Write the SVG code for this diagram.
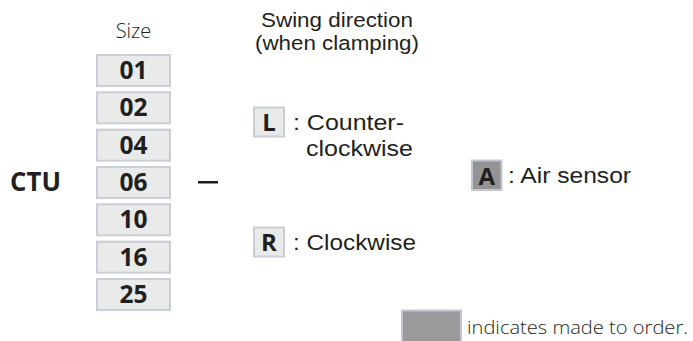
<svg xmlns="http://www.w3.org/2000/svg" width="693" height="341" viewBox="0 0 693 341">
<style>
.bx{fill:#e9ebea;stroke:#c9cdd8;stroke-width:2}
.dk{fill:#949495;stroke:#c2c6d0;stroke-width:2}
.b{font-family:"Open Sans","Liberation Sans",sans-serif;font-weight:bold;fill:#231f20}
.r{font-family:"Liberation Sans","Open Sans",sans-serif;fill:#231f20}
.l{font-family:"Open Sans","Liberation Sans",sans-serif;font-weight:300;fill:#231f20}
.ls{font-family:"Liberation Sans","Open Sans",sans-serif;fill:#231f20}
</style>
<rect width="693" height="341" fill="#ffffff"/>
<g id="prefix"><text class="b" x="10" y="191" font-size="26" textLength="51" lengthAdjust="spacingAndGlyphs">CTU</text></g>
<g id="size-header"><text class="l" x="133.5" y="38" font-size="20" text-anchor="middle">Size</text></g>
<g id="size-01"><rect class="bx" x="97" y="55" width="73" height="31"/><text class="b" x="133.5" y="79" font-size="24.5" text-anchor="middle">01</text></g>
<g id="size-02"><rect class="bx" x="97" y="92.3" width="73" height="31"/><text class="b" x="133.5" y="116.3" font-size="24.5" text-anchor="middle">02</text></g>
<g id="size-04"><rect class="bx" x="97" y="129.7" width="73" height="31"/><text class="b" x="133.5" y="153.7" font-size="24.5" text-anchor="middle">04</text></g>
<g id="size-06"><rect class="bx" x="97" y="167" width="73" height="31"/><text class="b" x="133.5" y="191" font-size="24.5" text-anchor="middle">06</text></g>
<g id="size-10"><rect class="bx" x="97" y="204.3" width="73" height="31"/><text class="b" x="133.5" y="228.3" font-size="24.5" text-anchor="middle">10</text></g>
<g id="size-16"><rect class="bx" x="97" y="241.7" width="73" height="31"/><text class="b" x="133.5" y="265.7" font-size="24.5" text-anchor="middle">16</text></g>
<g id="size-25"><rect class="bx" x="97" y="279" width="73" height="31"/><text class="b" x="133.5" y="303" font-size="24.5" text-anchor="middle">25</text></g>
<g id="dash"><rect x="198" y="181" width="20" height="2.5" fill="#231f20"/></g>
<g id="swing-header">
<text class="ls" x="337" y="27" font-size="19.5" text-anchor="middle" textLength="152" lengthAdjust="spacingAndGlyphs">Swing direction</text>
<text class="ls" x="337" y="50" font-size="19.5" text-anchor="middle" textLength="164" lengthAdjust="spacingAndGlyphs">(when clamping)</text>
</g>
<g id="swing-L">
<rect class="bx" x="254" y="107.5" width="30" height="29"/>
<text class="b" x="269" y="131" font-size="24" text-anchor="middle">L</text>
<text class="r" x="293" y="130" font-size="22" textLength="111" lengthAdjust="spacingAndGlyphs">: Counter-</text>
<text class="r" x="306" y="156" font-size="22" textLength="107" lengthAdjust="spacingAndGlyphs">clockwise</text>
</g>
<g id="swing-R">
<rect class="bx" x="254" y="227.5" width="30" height="29"/>
<text class="b" x="269" y="251" font-size="24" text-anchor="middle">R</text>
<text class="r" x="293" y="250" font-size="22" textLength="123" lengthAdjust="spacingAndGlyphs">: Clockwise</text>
</g>
<g id="option-A">
<rect class="dk" x="472" y="160.5" width="29.5" height="29.5"/>
<text class="b" x="486.7" y="185" font-size="24" text-anchor="middle">A</text>
<text class="r" x="508" y="183" font-size="22" textLength="123" lengthAdjust="spacingAndGlyphs">: Air sensor</text>
</g>
<g id="legend">
<rect class="dk" x="402" y="310.5" width="59" height="36" style="fill:#999a9c"/>
<text class="l" x="467" y="334" font-size="19" textLength="221" lengthAdjust="spacingAndGlyphs">indicates made to order.</text>
</g>
</svg>
